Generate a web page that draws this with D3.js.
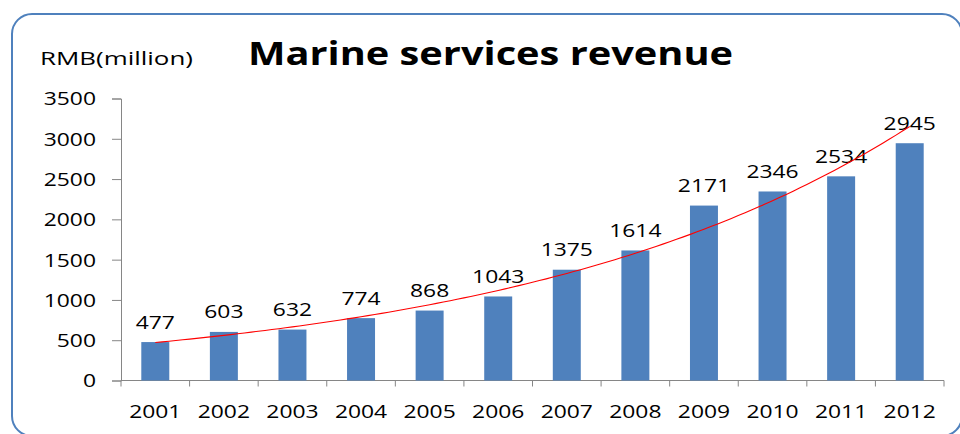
<!DOCTYPE html>
<html><head><meta charset="utf-8">
<script src="https://cdn.jsdelivr.net/npm/d3@7/dist/d3.min.js"></script>
<style>
html,body{margin:0;padding:0;background:#fff;}
svg{display:block;}
text{font-family:"Open Sans","DejaVu Sans",sans-serif;fill:#000;}
</style></head>
<body>
<svg id="chart" width="960" height="434"></svg>
<script>
const years = ["2001","2002","2003","2004","2005","2006","2007","2008","2009","2010","2011","2012"];
const revenue = [477,603,632,774,868,1043,1375,1614,2171,2346,2534,2945];
const yTicks = [0,500,1000,1500,2000,2500,3000,3500];
const titleText = "Marine services revenue";
const unitText = "RMB(million)";

const svg = d3.select("#chart");
const plot = {left:121, right:944, top:98.5, bottom:380.5};
const sx = 1.27; // horizontal stretch of the text
const fs = 18;

// border
svg.append("rect").attr("x",12).attr("y",14).attr("width",950).attr("height",422)
  .attr("rx",20).attr("ry",20).attr("fill","none").attr("stroke","#4F81BD").attr("stroke-width",2);

const x = d3.scaleBand().domain(years).range([plot.left, plot.right])
  .paddingInner(0.592).paddingOuter(0.296);
const y = d3.scaleLinear().domain([0,3500]).range([plot.bottom, plot.top]);
const step = x.step();

// y axis
const yAxis = svg.append("g").attr("transform",`translate(${plot.left},0)`)
  .call(d3.axisLeft(y).tickValues(yTicks).tickSize(9).tickPadding(16).tickFormat(d3.format("d")));
yAxis.selectAll("path.domain").attr("stroke","#868686").attr("stroke-width",1);
yAxis.selectAll(".tick line").attr("stroke","#868686");
yAxis.selectAll(".tick text").each(function(){
  const t = d3.select(this); const tx = +t.attr("x");
  t.attr("x",0).attr("dy","0.36em").attr("transform",`translate(${tx},0) scale(${sx},1)`)
   .attr("font-size",fs).attr("font-family","Open Sans").attr("fill","#111");
});

// x axis line + boundary ticks
const g = svg.append("g");
g.append("line").attr("x1",plot.left).attr("x2",plot.right).attr("y1",plot.bottom).attr("y2",plot.bottom)
  .attr("stroke","#868686");
const bounds = d3.range(years.length+1);
g.selectAll("line.xt").data(bounds).join("line").attr("class","xt")
  .attr("x1",i=>plot.left+i*step).attr("x2",i=>plot.left+i*step)
  .attr("y1",plot.bottom).attr("y2",plot.bottom+6).attr("stroke","#868686");

// x labels
svg.selectAll("text.xl").data(years).join("text").attr("class","xl")
  .attr("transform",d=>`translate(${x(d)+x.bandwidth()/2},418) scale(${sx},1)`)
  .attr("text-anchor","middle").attr("font-size",fs).attr("fill","#111").text(d=>d);

// bars
svg.selectAll("rect.bar").data(revenue).join("rect").attr("class","bar")
  .attr("x",(d,i)=>x(years[i])).attr("width",x.bandwidth())
  .attr("y",d=>y(d)).attr("height",d=>y(0)-y(d))
  .attr("fill","#4F81BD");

// data labels
svg.selectAll("text.dl").data(revenue).join("text").attr("class","dl")
  .attr("transform",(d,i)=>`translate(${x(years[i])+x.bandwidth()/2},${y(d)-13.5}) scale(${sx},1)`)
  .attr("text-anchor","middle").attr("font-size",fs).attr("fill","#111").text(d=>d);

// exponential trendline (least squares on ln values, like a spreadsheet trendline)
const idx = revenue.map((d,i)=>i+1);
const ln = revenue.map(d=>Math.log(d));
const mx = d3.mean(idx), my = d3.mean(ln);
const b = d3.sum(idx.map((v,i)=>(v-mx)*(ln[i]-my))) / d3.sum(idx.map(v=>(v-mx)*(v-mx)));
const a = my - b*mx;
const xi = d3.scaleLinear().domain([1,years.length])
  .range([x(years[0])+x.bandwidth()/2, x(years[years.length-1])+x.bandwidth()/2]);
const samples = d3.range(1, years.length+0.0001, 0.1);
svg.append("path").datum(samples)
  .attr("d", d3.line().x(t=>xi(t)).y(t=>y(Math.exp(a+b*t))))
  .attr("fill","none").attr("stroke","#FF0000").attr("stroke-width",1.1);

// unit label
svg.append("text").attr("x",40).attr("y",65).attr("font-size",fs)
  .attr("textLength",153).attr("lengthAdjust","spacingAndGlyphs").attr("fill","#111").text(unitText);

// title
svg.append("text").attr("x",248).attr("y",65).attr("font-size",32).attr("font-weight","bold")
  .attr("textLength",485).attr("lengthAdjust","spacingAndGlyphs").text(titleText);
</script>
</body></html>
